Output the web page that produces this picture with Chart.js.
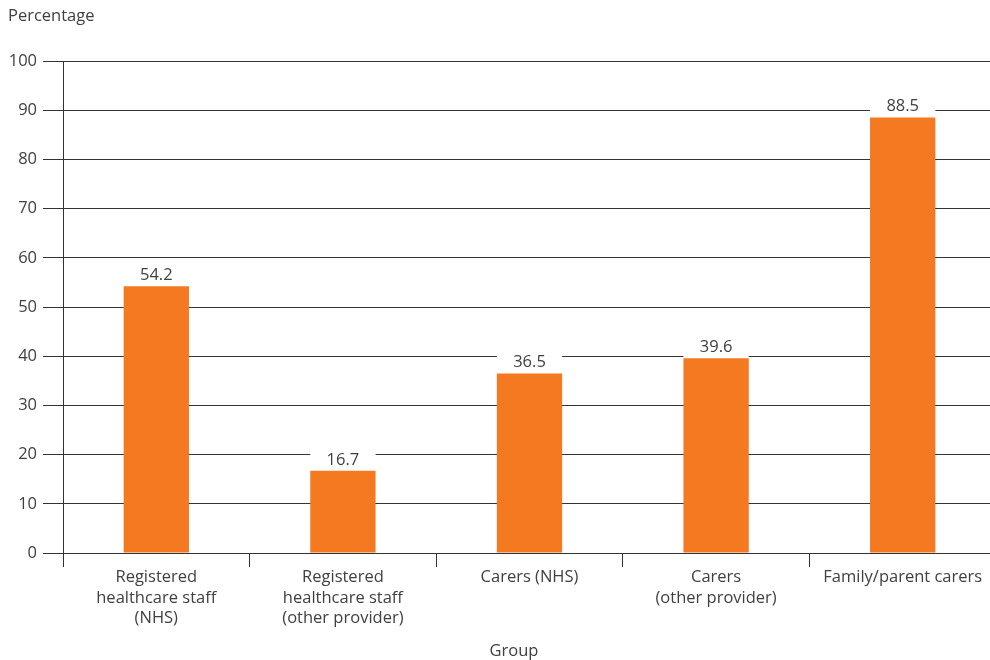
<!DOCTYPE html>
<html>
<head>
<meta charset="utf-8">
<script src="https://cdn.jsdelivr.net/npm/chart.js@4.4.0/dist/chart.umd.min.js"></script>
<style>
  html, body { margin: 0; padding: 0; background: #fff; overflow: hidden; }
  #frame { width: 990px; height: 660px; overflow: hidden; }
  /* plot runs slightly past the right edge, gridlines bleed off the page */
  #wrap { width: 996px; height: 660px; position: relative; }
</style>
</head>
<body>
<div id="frame"><div id="wrap"><canvas id="groupChart"></canvas></div></div>
<script>
// Share of each group, in percent
const groups = [
    ['Registered', 'healthcare staff', '(NHS)'],
    ['Registered', 'healthcare staff', '(other provider)'],
    'Carers (NHS)',
    ['Carers', '(other provider)'],
    'Family/parent carers'
];
const percentages = [54.2, 16.7, 36.5, 39.6, 88.5];
const yTicks = [0, 10, 20, 30, 40, 50, 60, 70, 80, 90, 100];

const FONT = '"Open Sans", "Noto Sans", sans-serif';
const TEXT = '#404040';
const LINE = '#333333';
const BAR = '#f47920';

// value above each bar, on a white patch so the gridline doesn't cut through it
const valueLabels = {
    id: 'valueLabels',
    afterDatasetsDraw(chart) {
        const ctx = chart.ctx;
        const meta = chart.getDatasetMeta(0);
        ctx.save();
        ctx.font = '16.5px ' + FONT;
        ctx.textAlign = 'center';
        ctx.textBaseline = 'middle';
        meta.data.forEach((bar, i) => {
            const w = bar.width;
            ctx.fillStyle = '#fff';
            ctx.fillRect(bar.x - w / 2, bar.y - 22, w, 21);
            ctx.fillStyle = TEXT;
            ctx.fillText(percentages[i].toFixed(1), bar.x, bar.y - 11);
        });
        ctx.restore();
    }
};

// axis titles: "Percentage" top-left, "Group" under the category labels
const axisTitles = {
    id: 'axisTitles',
    afterDraw(chart) {
        const ctx = chart.ctx;
        ctx.save();
        ctx.font = '16.5px ' + FONT;
        ctx.fillStyle = TEXT;
        ctx.textBaseline = 'middle';
        ctx.textAlign = 'left';
        ctx.fillText('Percentage', 8, 16);
        ctx.textAlign = 'center';
        ctx.fillText('Group', 514, 651);
        ctx.restore();
    }
};

new Chart(document.getElementById('groupChart'), {
    type: 'bar',
    data: {
        labels: groups,
        datasets: [{
            data: percentages,
            backgroundColor: BAR,
            barPercentage: 0.35,
            categoryPercentage: 1
        }]
    },
    options: {
        responsive: true,
        maintainAspectRatio: false,
        animation: false,
        layout: { padding: { top: 61, right: 0, bottom: 0, left: 0 } },
        plugins: {
            legend: { display: false },
            tooltip: { enabled: false }
        },
        scales: {
            x: {
                offset: true,
                grid: {
                    offset: true,
                    drawOnChartArea: false,
                    tickLength: 14,
                    color: LINE,
                    lineWidth: 1
                },
                border: { display: false },
                ticks: {
                    color: TEXT,
                    font: { family: FONT, size: 16.5, lineHeight: 1.25 },
                    padding: 0,
                    maxRotation: 0,
                    autoSkip: false
                },
                afterFit(scale) { scale.height = 107; }
            },
            y: {
                min: 0,
                max: 100,
                afterBuildTicks(scale) {
                    scale.ticks = yTicks.map(v => ({ value: v }));
                },
                grid: {
                    color: LINE,
                    lineWidth: 1,
                    tickLength: 20
                },
                border: { display: true, color: LINE, width: 1 },
                ticks: {
                    color: TEXT,
                    font: { family: FONT, size: 16.5 },
                    padding: 6
                },
                afterFit(scale) { scale.width = 63; }
            }
        }
    },
    plugins: [valueLabels, axisTitles]
});
</script>
</body>
</html>
